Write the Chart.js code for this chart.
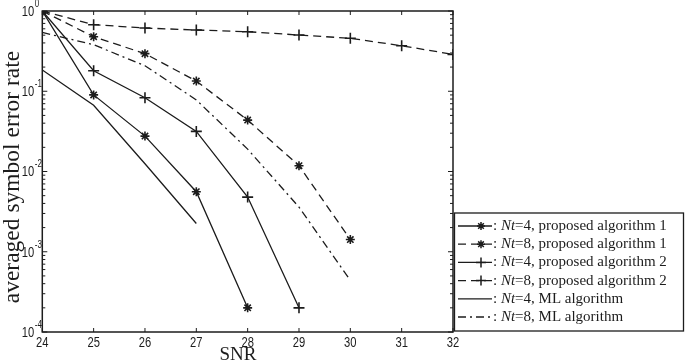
<!DOCTYPE html>
<html>
<head>
<meta charset="utf-8">
<script src="https://cdn.jsdelivr.net/npm/chart.js@4/dist/chart.umd.min.js"></script>
<style>
  html, body { margin: 0; padding: 0; background: #fff; }
  #wrap { width: 685px; height: 364px; }
</style>
</head>
<body>
<div id="wrap"><canvas id="ser_chart" width="685" height="364"></canvas></div>
<script>
// SNR values (x axis)
const snr = [24, 25, 26, 27, 28, 29, 30, 31, 32];
const y_ticks = [1, 0.1, 0.01, 0.001, 0.0001];
const y_exps = ['0', '-1', '-2', '-3', '-4'];

// averaged symbol error rate, starting at SNR 24
const nt4_alg1 = [1.0, 0.090, 0.0276, 0.0056, 0.0002];
const nt8_alg1 = [1.0, 0.478, 0.294, 0.134, 0.0437, 0.0118, 0.00142];
const nt4_alg2 = [1.0, 0.18, 0.083, 0.0316, 0.0048, 0.0002];
const nt8_alg2 = [1.0, 0.675, 0.614, 0.58, 0.552, 0.502, 0.457, 0.369, 0.288];
const nt4_ml = [0.184, 0.067, 0.0125, 0.00225];
const nt8_ml = [0.54, 0.38, 0.208, 0.078, 0.019, 0.0036, 0.00044];

const legend_nt = ['4', '8', '4', '8', '4', '8'];
const legend_alg = ['proposed algorithm 1', 'proposed algorithm 1', 'proposed algorithm 2',
                    'proposed algorithm 2', 'ML algorithm', 'ML algorithm'];

const ink = '#1c1c1c';
const sans = "'Liberation Sans', Arial, sans-serif";
const serif = "'Liberation Serif', 'DejaVu Serif', serif";
const squeeze = 0.8;  // tick labels in the original are a narrow face

function to_points(vals) {
    return vals.map((v, i) => ({ x: snr[i], y: v }));
}

function make_set(vals, dash, style, radius) {
    return {
        data: to_points(vals),
        borderColor: ink,
        backgroundColor: ink,
        borderWidth: 1.3,
        borderDash: dash,
        pointStyle: style,
        pointRadius: style ? radius : 0,
        pointBorderWidth: 1.6,
        pointBorderColor: ink,
        tension: 0,
        fill: false
    };
}

const dashed = [8, 5];
const dash_dot = [8, 4, 2, 4];

const datasets = [
    make_set(nt4_alg1, [], 'star', 4.5),
    make_set(nt8_alg1, dashed, 'star', 4.5),
    make_set(nt4_alg2, [], 'cross', 5.5),
    make_set(nt8_alg2, dashed, 'cross', 5.5),
    make_set(nt4_ml, [], false, 0),
    make_set(nt8_ml, dash_dot, false, 0)
];

function draw_marker(ctx, style, x, y, r) {
    ctx.beginPath();
    ctx.moveTo(x - r, y); ctx.lineTo(x + r, y);
    ctx.moveTo(x, y - r); ctx.lineTo(x, y + r);
    if (style === 'star') {
        const d = r * 0.707;
        ctx.moveTo(x - d, y - d); ctx.lineTo(x + d, y + d);
        ctx.moveTo(x - d, y + d); ctx.lineTo(x + d, y - d);
    }
    ctx.stroke();
}

// narrow text: draw with a horizontal squeeze, anchored at (x, y)
function narrow_text(ctx, text, x, y, align, size) {
    ctx.save();
    ctx.font = size + 'px ' + sans;
    ctx.textAlign = align;
    ctx.textBaseline = 'middle';
    ctx.translate(x, y);
    ctx.scale(squeeze, 1);
    ctx.fillText(text, 0, 0);
    ctx.restore();
}

const frame_plugin = {
    id: 'frame_plugin',
    afterDraw(chart) {
        const ctx = chart.ctx;
        const a = chart.chartArea;
        const xs = chart.scales.x;
        const ys = chart.scales.y;
        ctx.save();
        ctx.strokeStyle = ink;
        ctx.fillStyle = ink;

        // axes box
        ctx.lineWidth = 1.5;
        ctx.setLineDash([]);
        ctx.strokeRect(a.left, a.top, a.right - a.left, a.bottom - a.top);

        // inward ticks
        ctx.lineWidth = 1;
        ctx.beginPath();
        snr.forEach(v => {
            const px = xs.getPixelForValue(v);
            ctx.moveTo(px, a.bottom); ctx.lineTo(px, a.bottom - 4);
            ctx.moveTo(px, a.top); ctx.lineTo(px, a.top + 4);
        });
        for (let e = -4; e <= 0; e++) {
            for (let m = 1; m <= 9; m++) {
                if (e === 0 && m > 1) break;
                const py = ys.getPixelForValue(m * Math.pow(10, e));
                const len = m === 1 ? 5 : 3;
                ctx.moveTo(a.left, py); ctx.lineTo(a.left + len, py);
                ctx.moveTo(a.right, py); ctx.lineTo(a.right - len, py);
            }
        }
        ctx.stroke();

        // x tick labels
        snr.forEach(v => {
            narrow_text(ctx, String(v), xs.getPixelForValue(v), a.bottom + 11, 'center', 14);
        });

        // y tick labels with exponent
        y_ticks.forEach((v, i) => {
            const py = ys.getPixelForValue(v);
            narrow_text(ctx, '10', a.left - 8, py + 1, 'right', 14);
            narrow_text(ctx, y_exps[i], a.left - 7.5, py - 7, 'left', 10);
        });

        // axis titles
        ctx.font = '19px ' + serif;
        ctx.textAlign = 'center';
        ctx.textBaseline = 'middle';
        ctx.fillText('SNR', 238, 355);
        ctx.save();
        ctx.translate(13, 177);
        ctx.rotate(-Math.PI / 2);
        ctx.font = '23.5px ' + serif;
        ctx.fillText('averaged symbol error rate', 0, 0);
        ctx.restore();

        // legend
        const lx = 454.5, ly = 213, lw = 229, lh = 118;
        ctx.fillStyle = '#fff';
        ctx.fillRect(lx, ly, lw, lh);
        ctx.fillStyle = ink;
        ctx.lineWidth = 1.3;
        ctx.strokeRect(lx, ly, lw, lh);
        chart.data.datasets.forEach((ds, i) => {
            const ry = 226 + i * 18.2;
            ctx.lineWidth = 1.3;
            ctx.setLineDash(ds.borderDash);
            ctx.beginPath();
            ctx.moveTo(458, ry); ctx.lineTo(492, ry);
            ctx.stroke();
            ctx.setLineDash([]);
            if (ds.pointStyle) {
                ctx.lineWidth = 1.5;
                draw_marker(ctx, ds.pointStyle, 481, ry, ds.pointStyle === 'star' ? 4 : 5);
            }
            ctx.textAlign = 'left';
            ctx.textBaseline = 'middle';
            let tx = 493;
            ctx.font = '15px ' + serif;
            ctx.fillText(': ', tx, ry);
            tx += ctx.measureText(': ').width;
            ctx.font = 'italic 15px ' + serif;
            ctx.fillText('Nt', tx, ry);
            tx += ctx.measureText('Nt').width;
            ctx.font = '15px ' + serif;
            ctx.fillText('=' + legend_nt[i] + ', ' + legend_alg[i], tx, ry);
        });
        ctx.restore();
    }
};

const ctx = document.getElementById('ser_chart').getContext('2d');
window.ser_chart = new Chart(ctx, {
    type: 'line',
    data: { datasets: datasets },
    plugins: [frame_plugin],
    options: {
        responsive: false,
        animation: false,
        devicePixelRatio: 1,
        layout: { padding: { top: 11, right: 232, left: 0, bottom: 0 } },
        plugins: { legend: { display: false }, tooltip: { enabled: false } },
        scales: {
            x: {
                type: 'linear',
                min: 24,
                max: 32,
                afterFit: s => { s.height = 32; },
                ticks: { display: false, stepSize: 1 },
                grid: { display: false, drawTicks: false },
                border: { display: false }
            },
            y: {
                type: 'logarithmic',
                min: 0.0001,
                max: 1,
                afterFit: s => { s.width = 42.3; },
                ticks: { display: false },
                grid: { display: false, drawTicks: false },
                border: { display: false }
            }
        }
    }
});
</script>
</body>
</html>
